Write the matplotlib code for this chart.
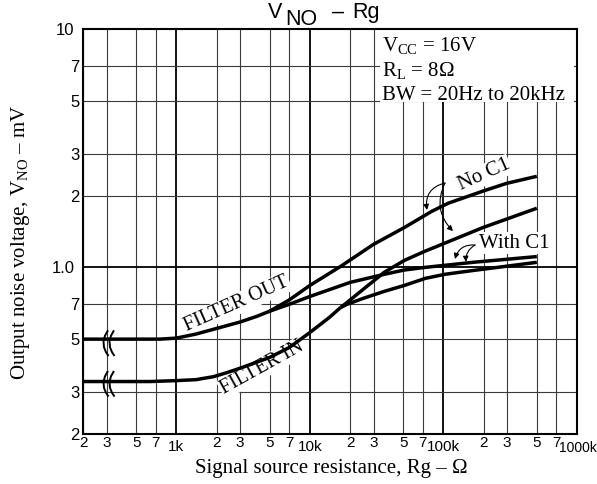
import matplotlib
matplotlib.use('Agg')
import matplotlib.pyplot as plt
import matplotlib.transforms as mtransforms
from matplotlib.patches import Rectangle, FancyArrowPatch
from matplotlib.ticker import FixedLocator, FixedFormatter

plt.rcParams['font.family'] = ['Liberation Sans', 'DejaVu Sans']
plt.rcParams['mathtext.fontset'] = 'custom'
plt.rcParams['mathtext.rm'] = 'Liberation Serif'
plt.rcParams['mathtext.it'] = 'Liberation Serif:italic'
plt.rcParams['mathtext.sf'] = 'Liberation Sans'

# ---- data (Rg in ohm, V_NO in mV) ----
out_r = [200, 450, 750, 1000, 1400, 1900, 3000, 4000, 5000]
out_v = [0.50, 0.50, 0.50, 0.505, 0.525, 0.55, 0.59, 0.623, 0.655]
out_noc1_r = [5000, 7000, 10000, 17000, 30000, 51000, 82000, 109000, 198000, 296000, 500000]
out_noc1_v = [0.655, 0.73, 0.84, 1.01, 1.25, 1.47, 1.72, 1.86, 2.09, 2.25, 2.41]
out_c1_r = [5000, 7000, 10000, 20000, 36000, 51000, 73000, 166000, 500000]
out_c1_v = [0.655, 0.70, 0.755, 0.865, 0.935, 0.975, 1.0, 1.05, 1.11]
in_r = [200, 640, 1000, 1400, 1900, 2400, 3100, 5000, 7000, 10000, 14000, 17000]
in_v = [0.332, 0.332, 0.335, 0.338, 0.348, 0.362, 0.38, 0.419, 0.461, 0.533, 0.617, 0.679]
in_noc1_r = [17000, 19000, 25000, 36000, 51000, 73000, 91000, 198000, 500000]
in_noc1_v = [0.679, 0.713, 0.808, 0.953, 1.07, 1.17, 1.23, 1.47, 1.77]
in_c1_r = [17000, 19000, 25000, 36000, 51000, 73000, 102000, 166000, 500000]
in_c1_v = [0.679, 0.70, 0.741, 0.793, 0.84, 0.899, 0.935, 0.97, 1.05]

x_major = [1e3, 1e4, 1e5, 1e6]
x_major_labels = ['1k', '10k', '100k', '1000k']
x_minor = [200, 300, 500, 700, 2e3, 3e3, 5e3, 7e3, 2e4, 3e4, 5e4, 7e4, 2e5, 3e5, 5e5, 7e5]
x_minor_labels = ['2', '3', '5', '7'] * 4
y_major = [1.0, 10.0]
y_major_labels = ['1.0', '10']
y_minor = [0.2, 0.3, 0.5, 0.7, 2, 3, 5, 7]
y_minor_labels = ['2', '3', '5', '7', '2', '3', '5', '7']

W, H = 597, 484
SERIF = ['Liberation Serif', 'DejaVu Serif']
SANS = ['Liberation Sans', 'DejaVu Sans']

fig = plt.figure(figsize=(W / 100, H / 100), dpi=100)
ax = fig.add_axes([83 / W, 1 - 434 / H, 494 / W, 405 / H])
ax.set_xscale('log')
ax.set_yscale('log')
ax.set_xlim(200, 1e6)
ax.set_ylim(0.2, 10)

ax.xaxis.set_major_locator(FixedLocator(x_major))
ax.xaxis.set_major_formatter(FixedFormatter(x_major_labels[:-1] + ['']))
ax.xaxis.set_minor_locator(FixedLocator(x_minor))
ax.xaxis.set_minor_formatter(FixedFormatter(x_minor_labels))
ax.yaxis.set_major_locator(FixedLocator(y_major))
ax.yaxis.set_major_formatter(FixedFormatter(y_major_labels))
ax.yaxis.set_minor_locator(FixedLocator(y_minor))
ax.yaxis.set_minor_formatter(FixedFormatter(y_minor_labels))

ax.tick_params(which='both', length=0, colors='black')
ax.tick_params(axis='x', which='major', pad=4.5, labelsize=11)
ax.tick_params(axis='x', which='minor', pad=1.5, labelsize=11)
ax.tick_params(axis='y', which='major', pad=6, labelsize=12)
ax.tick_params(axis='y', which='minor', pad=2.5, labelsize=12)

# last decade label, pushed right so it does not run into "7"
ax.text(x_major[-1], 0, x_major_labels[-1], ha='left', va='top', fontsize=10,
        family=SANS, clip_on=False,
        transform=mtransforms.offset_copy(ax.get_xaxis_transform(), fig=fig,
                                          x=-17.5, y=-6.5, units='dots'))

ax.set_axisbelow(True)
ax.grid(which='major', color='black', lw=1.3)
ax.grid(which='minor', color='#3a3a3a', lw=0.8)
for s in ax.spines.values():
    s.set_linewidth(1.5)
    s.set_zorder(5)

# white box behind conditions text
ax.add_patch(Rectangle((0.601, 0.82), 0.393, 0.178, transform=ax.transAxes,
                       fc='white', ec='none', zorder=1))

lw = 2.5
for r, v in [(out_r, out_v), (out_noc1_r, out_noc1_v), (out_c1_r, out_c1_v),
             (in_r, in_v), (in_noc1_r, in_noc1_v), (in_c1_r, in_c1_v)]:
    ax.plot(r, v, color='black', lw=lw, solid_capstyle='butt',
            solid_joinstyle='round', zorder=3)

# break marks
def brk(xa, ya):
    tr = fig.dpi_scale_trans + mtransforms.ScaledTranslation(xa, ya, ax.transAxes)
    shape_x = [0.025, 0.0, -0.015, -0.01, 0.01, 0.03]
    shape_y = [0.12, 0.075, 0.02, -0.04, -0.09, -0.12]
    for dx in (-0.03, 0.03):
        ax.plot([sx + dx for sx in shape_x], shape_y, color='black', lw=1.4,
                transform=tr, zorder=4, clip_on=False)
brk(0.0506, 0.2242)
brk(0.0506, 0.124)

# curve labels
bb = dict(boxstyle='square,pad=0.05', fc='white', ec='none')
ax.text(0.3117, 0.321, 'FILTER OUT', rotation=24, ha='center', va='center',
        transform=ax.transAxes, family=SERIF, fontsize=14.5, bbox=bb, zorder=2.5)
ax.text(0.3623, 0.163, 'FILTER IN', rotation=29, ha='center', va='center',
        transform=ax.transAxes, family=SERIF, fontsize=14.5, bbox=bb, zorder=2.5)
ax.text(0.8117, 0.6395, 'No C1', rotation=24, ha='center', va='center',
        transform=ax.transAxes, family=SERIF, fontsize=15, bbox=bb, zorder=2.5)
ax.text(0.8725, 0.4716, 'With C1', rotation=0, ha='center', va='center',
        transform=ax.transAxes, family=SERIF, fontsize=15, bbox=bb, zorder=2.5)

def arrow(p0, p1, rad):
    a = FancyArrowPatch(p0, p1, transform=ax.transAxes, arrowstyle='-|>',
                        mutation_scale=8, connectionstyle=f'arc3,rad={rad}',
                        color='black', lw=0.8, zorder=4, shrinkA=0, shrinkB=0)
    ax.add_patch(a)

arrow((0.7328, 0.6198), (0.6964, 0.5531), 0.45)
arrow((0.7328, 0.6198), (0.7490, 0.5010), 0.35)
arrow((0.7935, 0.4667), (0.7530, 0.4320), 0.4)
arrow((0.7935, 0.4667), (0.7753, 0.4250), 0.3)

# axis labels
ax.set_xlabel('Signal source resistance, Rg – Ω', family=SERIF, fontsize=15, va='center')
ax.xaxis.set_label_coords((331 - 83) / 494, (434 - 468) / 405)
ax.set_ylabel(r'Output noise voltage, V$_{\mathrm{NO}}$ – mV', family=SERIF, fontsize=15,
              va='center')
ax.yaxis.set_label_coords((21 - 83) / 494, (434 - 242) / 405)

def ftext(x, y, s, **kw):
    fig.text(x / W, 1 - y / H, s, ha='left', va='baseline', **kw)

# title
ftext(268, 18, 'V', family=SANS, fontsize=15.5)
ftext(285, 25, 'NO', family=SANS, fontsize=15.5)
ftext(332, 18, '–', family=SANS, fontsize=15.5)
ftext(352, 18, 'Rg', family=SANS, fontsize=15.5)

# conditions
ftext(382, 51, r'V$_{\mathrm{CC}}$ = 16V', family=SERIF, fontsize=15)
ftext(382, 76, r'R$_{\mathrm{L}}$ = 8Ω', family=SERIF, fontsize=15)
ftext(382, 100, 'BW = 20Hz to 20kHz', family=SERIF, fontsize=15)

fig.savefig('out.png', dpi=100)
